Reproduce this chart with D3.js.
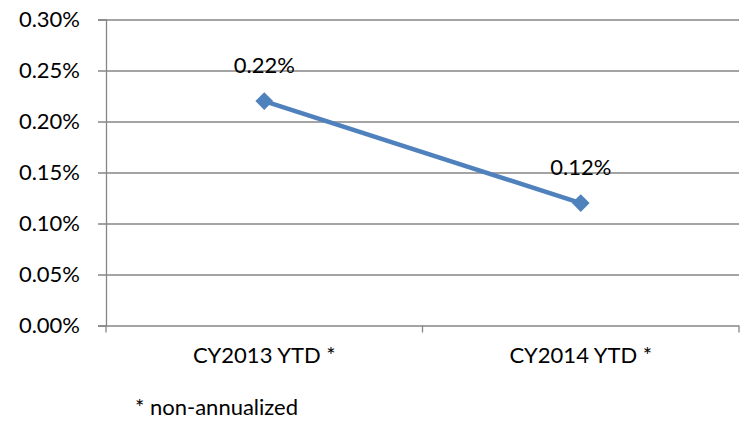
<!DOCTYPE html>
<html>
<head>
<meta charset="utf-8">
<script src="https://cdn.jsdelivr.net/npm/d3@7"></script>
<style>
  body { margin: 0; background: #fff; }
  text { font-family: Lato, "Open Sans", sans-serif; fill: #000; }
</style>
</head>
<body>
<div id="chart"></div>
<script>
// chart data
var categories = ["CY2013 YTD *", "CY2014 YTD *"];
var values = [0.0022, 0.0012];
var valueLabels = ["0.22%", "0.12%"];
var yTicks = [0, 0.0005, 0.001, 0.0015, 0.002, 0.0025, 0.003];
var footnote = "* non-annualized";

var W = 746, H = 423;
var margin = {top: 19.5, right: 7, bottom: 97.5, left: 106},
    width = W - margin.left - margin.right,
    height = H - margin.top - margin.bottom;
var fs = 22;

var svg = d3.select("#chart")
  .append("svg")
    .attr("width", W)
    .attr("height", H)
  .append("g")
    .attr("transform", "translate(" + margin.left + "," + margin.top + ")");

var x = d3.scaleBand()
    .domain(categories)
    .range([0, width]);

var y = d3.scaleLinear()
    .domain([0, 0.003])
    .range([height, 0]);

// horizontal gridlines + left ticks
var yAxis = svg.append("g")
    .call(d3.axisLeft(y)
      .tickValues(yTicks)
      .tickSize(8)
      .tickPadding(18)
      .tickFormat(d3.format(".2%")));
yAxis.select(".domain").attr("stroke", "#868686").attr("stroke-width", 1.3);
yAxis.selectAll(".tick line").attr("stroke", "#868686").attr("stroke-width", 1.3)
    .attr("x2", width).attr("x1", -8);
yAxis.selectAll(".tick text").attr("font-size", fs).attr("fill", "#000")
    .style("font-family", "Lato, 'Open Sans', sans-serif");

// bottom axis with ticks at category boundaries
var xAxis = svg.append("g")
    .attr("transform", "translate(0," + height + ")")
    .call(d3.axisBottom(x).tickSize(0).tickPadding(22));
xAxis.select(".domain").remove();
xAxis.selectAll(".tick text").attr("font-size", fs).attr("fill", "#000")
    .style("font-family", "Lato, 'Open Sans', sans-serif");

var bounds = categories.map(function(c) { return x(c); }).concat([width]);
svg.append("g").selectAll("line")
  .data(bounds)
  .enter().append("line")
    .attr("x1", function(d) { return d; })
    .attr("x2", function(d) { return d; })
    .attr("y1", height)
    .attr("y2", height + 7)
    .attr("stroke", "#868686")
    .attr("stroke-width", 1.3);

var cx = function(d, i) { return x(categories[i]) + x.bandwidth() / 2; };

// the line
svg.append("path")
  .datum(values)
  .attr("fill", "none")
  .attr("stroke", "#4F81BD")
  .attr("stroke-width", 4.5)
  .attr("d", d3.line()
    .x(function(d, i) { return cx(d, i); })
    .y(function(d) { return y(d); }));

// diamond markers
svg.selectAll(".marker")
  .data(values)
  .enter().append("path")
    .attr("class", "marker")
    .attr("d", d3.symbol().type(d3.symbolDiamond2).size(200))
    .attr("transform", function(d, i) {
      return "translate(" + cx(d, i) + "," + y(d) + ")";
    })
    .attr("fill", "#4F81BD");

// data labels
svg.selectAll(".vlabel")
  .data(values)
  .enter().append("text")
    .attr("class", "vlabel")
    .attr("x", function(d, i) { return cx(d, i); })
    .attr("y", function(d) { return y(d) - 36; })
    .attr("dy", "0.35em")
    .attr("text-anchor", "middle")
    .attr("font-size", fs)
    .text(function(d, i) { return valueLabels[i]; });

// footnote
svg.append("text")
  .attr("x", 135 - margin.left)
  .attr("y", 407 - margin.top)
  .attr("dy", "0.35em")
  .attr("font-size", fs)
  .text(footnote);
</script>
</body>
</html>
